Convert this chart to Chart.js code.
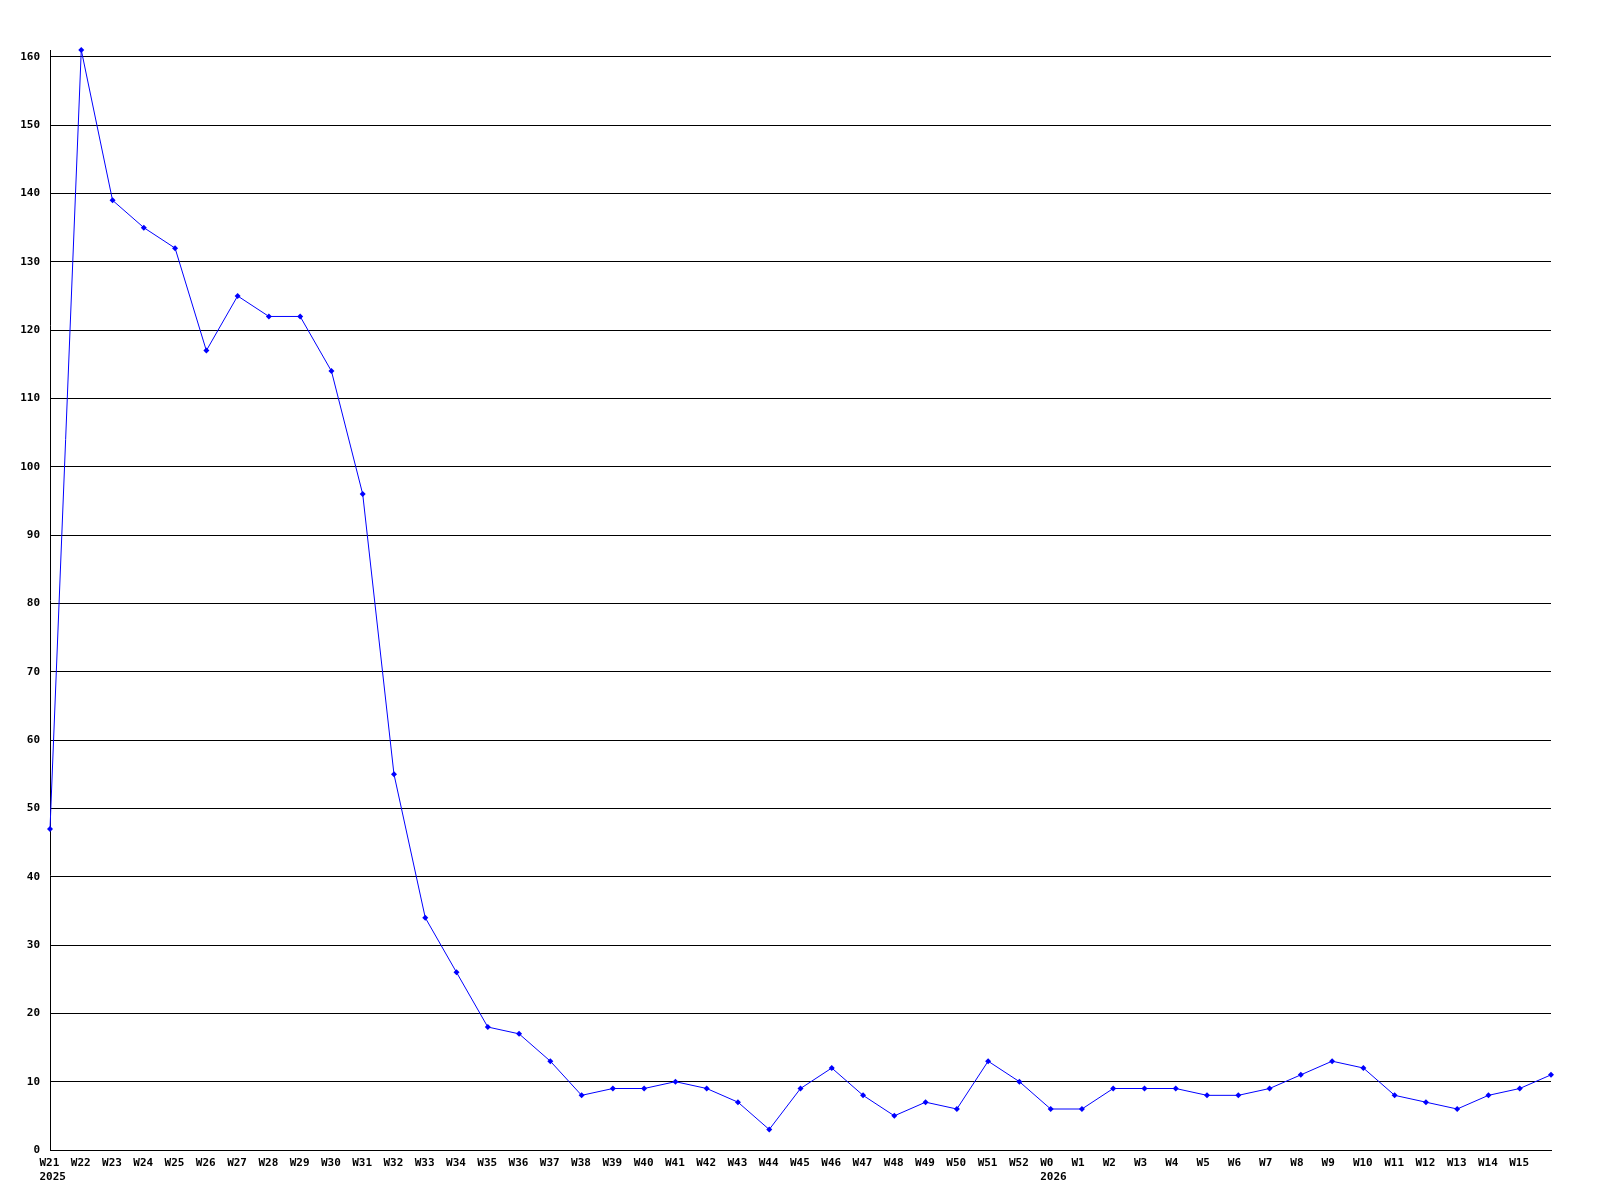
<!DOCTYPE html>
<html>
<head>
<meta charset="utf-8">
<script src="https://cdn.jsdelivr.net/npm/chart.js@4/dist/chart.umd.min.js"></script>
<style>
  html, body { margin: 0; padding: 0; background: #fff; }
  #wrap { width: 1600px; height: 1200px; }
</style>
</head>
<body>
<div id="wrap"><canvas id="chart"></canvas></div>
<script>
// ── DATA ───────────────────────────────────────────────────────────────────
const weeks = [
  'W21','W22','W23','W24','W25','W26','W27','W28','W29','W30','W31','W32',
  'W33','W34','W35','W36','W37','W38','W39','W40','W41','W42','W43','W44',
  'W45','W46','W47','W48','W49','W50','W51','W52',
  'W0','W1','W2','W3','W4','W5','W6','W7','W8','W9','W10','W11','W12','W13','W14','W15',
  ''
];
const years = { 'W21': '2025', 'W0': '2026' };
const counts = [
  47, 161, 139, 135, 132, 117, 125, 122, 122, 114, 96, 55,
  34, 26, 18, 17, 13, 8, 9, 9, 10, 9, 7, 3,
  9, 12, 8, 5, 7, 6, 13, 10,
  6, 6, 9, 9, 9, 8, 8, 9, 11, 13, 12, 8, 7, 6, 8, 9,
  11
];
const yTicks = [0, 10, 20, 30, 40, 50, 60, 70, 80, 90, 100, 110, 120, 130, 140, 150, 160];
const yMax = 161;

const labels = weeks.map(w => years[w] ? [w, years[w]] : w);

const FONT = { family: "'DejaVu Sans Mono', 'Liberation Mono', monospace", size: 11, weight: 'bold', lineHeight: 1.3 };

new Chart(document.getElementById('chart'), {
  type: 'line',
  data: {
    labels: labels,
    datasets: [{
      data: counts,
      borderColor: '#0000ff',
      backgroundColor: '#0000ff',
      borderWidth: 1,
      pointStyle: 'rectRot',
      pointRadius: 3,
      pointBorderWidth: 0,
      tension: 0,
      clip: false,
    }]
  },
  options: {
    responsive: true, maintainAspectRatio: false, animation: false,
    layout: { padding: { top: 50, right: 49, left: 0, bottom: 0 } },
    plugins: { legend: { display: false }, tooltip: { enabled: false } },
    scales: {
      x: {
        offset: false,
        grid: { display: false, drawTicks: false },
        border: { display: true, color: '#000', width: 1 },
        ticks: {
          autoSkip: false, maxRotation: 0, minRotation: 0,
          align: 'start', labelOffset: -10.5, padding: 6,
          color: '#000', font: FONT
        },
        afterFit: s => { s.height = 50; }
      },
      y: {
        min: 0, max: yMax,
        grid: { color: '#000', lineWidth: 1, drawTicks: false },
        border: { display: true, color: '#000', width: 1 },
        ticks: { padding: 10, color: '#000', font: FONT },
        afterBuildTicks: s => { s.ticks = yTicks.map(v => ({ value: v })); },
        afterFit: s => { s.width = 50; }
      }
    }
  }
});
</script>
</body>
</html>
